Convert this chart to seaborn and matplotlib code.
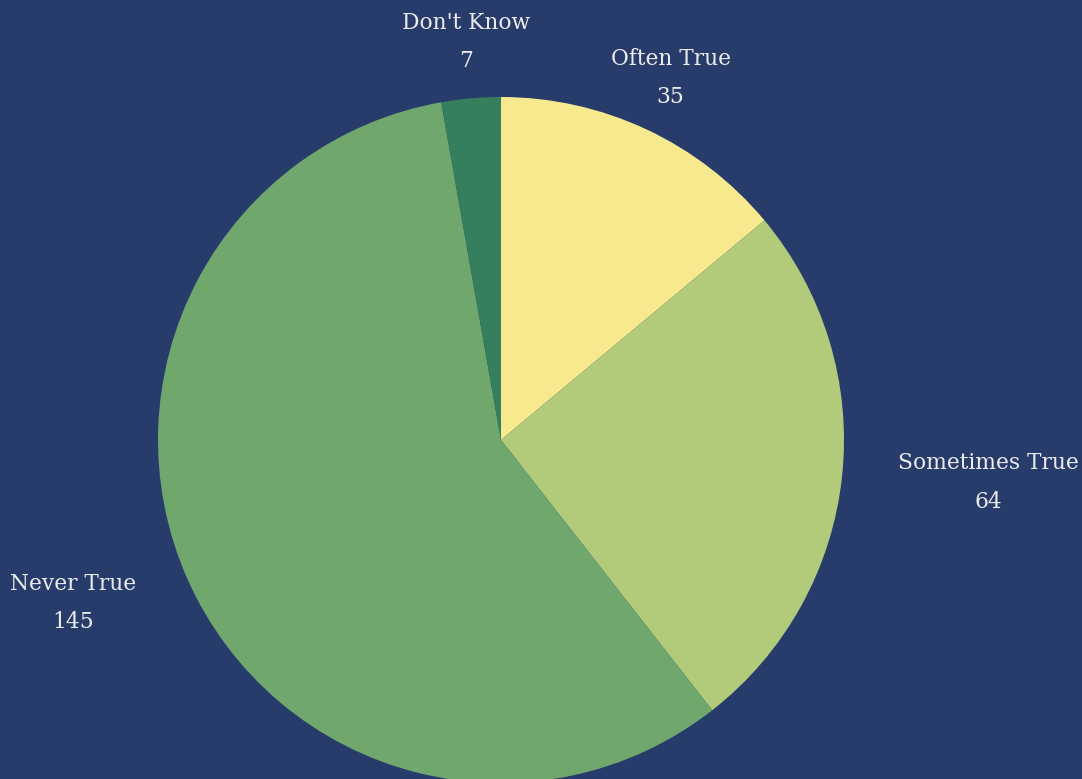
import numpy as np
import matplotlib
matplotlib.use("Agg")
import matplotlib.pyplot as plt
import seaborn as sns

# Survey responses, drawn clockwise from 12 o'clock
categories = ["Often True", "Sometimes True", "Never True", "Don't Know"]
counts = [35, 64, 145, 7]
slice_colors = ["#f7e98e", "#b1cb7b", "#70a76d", "#357f5e"]

bg = "#283c6c"
text_color = "#ebebeb"

sns.set_theme(style="white")
plt.rcParams["font.family"] = ["DejaVu Serif"]

fig = plt.figure(figsize=(10.82, 7.79), dpi=100, facecolor=bg)
ax = fig.add_axes([0, 0, 1, 1])
ax.set_facecolor(bg)

palette = sns.color_palette(slice_colors)
wedges, _ = ax.pie(
    counts,
    colors=palette,
    startangle=90,
    counterclock=False,
    radius=1.0,
    wedgeprops=dict(linewidth=0),
)

# Outside labels: category name with the count underneath
label_r = 1.165
for w, name, n in zip(wedges, categories, counts):
    mid = np.deg2rad((w.theta1 + w.theta2) / 2)
    x, y = label_r * np.cos(mid), label_r * np.sin(mid)
    c = np.cos(mid)
    ha = "left" if c > 0.6 else ("right" if c < -0.6 else "center")
    ax.text(x, y, f"{name}\n{n}", ha=ha, va="center", multialignment="center",
            fontsize=15.7, color=text_color, linespacing=1.95)

ax.set_xlim(-501 / 343, (1082 - 501) / 343)
ax.set_ylim(-(779 - 440) / 343, 440 / 343)
ax.set_aspect("equal")
ax.axis("off")

fig.savefig("out.png", dpi=100, facecolor=bg)
